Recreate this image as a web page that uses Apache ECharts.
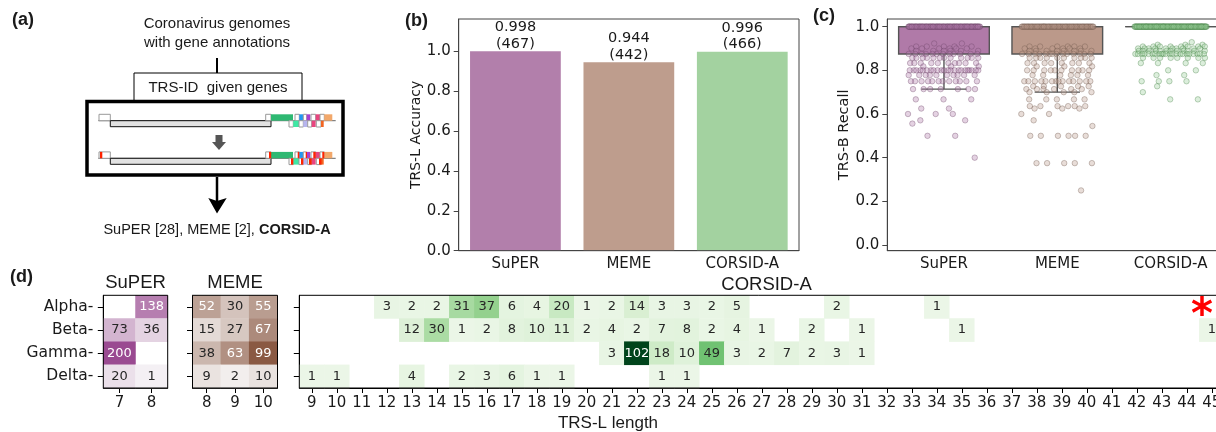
<!DOCTYPE html>
<html><head><meta charset="utf-8">
<script src="https://cdn.jsdelivr.net/npm/echarts@6/dist/echarts.min.js"></script>
<style>html,body{margin:0;padding:0;background:#fff}#c{width:1216px;height:432px}</style>
</head><body><div id="c"></div>
<script>
// ---------------- data ----------------
const methods = ['SuPER', 'MEME', 'CORSID-A'];
const accuracy = [0.998, 0.944, 0.996];
const correctCounts = [467, 442, 466];
// box stats: [whisker low, Q1, median, Q3, whisker high]
const recallBoxStats = [[0.714, 0.875, 1, 1, 1], [0.70, 0.875, 1, 1, 1], [1, 1, 1, 1, 1]];
// recall values as [value, number of genomes]
const superRecall = [[1.0,110],[0.923,2],[0.909,5],[0.9,6],[0.889,6],[0.875,12],[0.857,12],[0.833,10],[0.818,3],[0.8,22],[0.778,10],[0.75,12],[0.714,7],[0.667,3],[0.625,2],[0.6,3],[0.571,2],[0.556,1],[0.5,2],[0.4,1]];
const memeRecall = [[1.0,90],[0.909,6],[0.9,6],[0.889,8],[0.875,14],[0.857,10],[0.833,8],[0.818,3],[0.8,10],[0.778,6],[0.75,14],[0.727,5],[0.714,6],[0.7,5],[0.667,5],[0.636,6],[0.625,3],[0.6,2],[0.571,1],[0.545,1],[0.5,6],[0.375,5],[0.25,1]];
const corsidRecall = [[1.0,150],[0.929,1],[0.917,3],[0.909,8],[0.9,10],[0.889,12],[0.875,22],[0.857,8],[0.833,4],[0.8,2],[0.778,2],[0.75,4],[0.727,1],[0.7,1],[0.667,2]];

const clades = ['Alpha', 'Beta', 'Gamma', 'Delta'];
const superLengths = ['7', '8'];
const superCounts = [[0, 138], [73, 36], [200, 0], [20, 1]];
const memeLengths = ['8', '9', '10'];
const memeCounts = [[52, 30, 55], [15, 27, 67], [38, 63, 99], [9, 2, 10]];
const corsidLengths = ['9','10','11','12','13','14','15','16','17','18','19','20','21','22','23','24','25','26','27','28','29','30','31','32','33','34','35','36','37','38','39','40','41','42','43','44','45','46'];
// [TRS-L length, count] per clade
const corsidAlpha = [[12,3],[13,2],[14,2],[15,31],[16,37],[17,6],[18,4],[19,20],[20,1],[21,2],[22,14],[23,3],[24,3],[25,2],[26,5],[30,2],[34,1]];
const corsidBeta = [[13,12],[14,30],[15,1],[16,2],[17,8],[18,10],[19,11],[20,2],[21,4],[22,2],[23,7],[24,8],[25,2],[26,4],[27,1],[29,2],[31,1],[35,1],[45,1]];
const corsidGamma = [[21,3],[22,102],[23,18],[24,10],[25,49],[26,3],[27,2],[28,7],[29,2],[30,3],[31,1]];
const corsidDelta = [[9,1],[10,1],[13,4],[15,2],[16,3],[17,6],[18,1],[19,1],[23,1],[24,1]];

// ---------------- styles ----------------
const DJ = '"DejaVu Sans", sans-serif';
const LS = '"Liberation Sans", Arial, sans-serif';
const TXT = '#1a1a1a';
const barColors = ['#b27fab', '#be9d8d', '#a3d2a0'];
const boxColors = ['#b07aa8', '#bb998a', '#a3d2a0'];
const ptFill = ['rgba(176,122,170,0.42)', 'rgba(188,154,138,0.42)', 'rgba(150,205,150,0.42)'];
const ptEdge = ['rgba(105,65,100,0.55)', 'rgba(110,85,75,0.55)', 'rgba(70,130,70,0.55)'];

function jitterPoints(groups, idx) {
  const out = [];
  groups.forEach(([v, n]) => {
    const seed = (v * 7.31) % 1;
    for (let i = 0; i < n; i++) {
      const f = ((seed + i * 0.6180339887) % 1) - 0.5;
      out.push([idx + f * 0.64, v]);
    }
  });
  return out;
}
const heatLabel = { show: true, fontFamily: DJ, fontSize: 13 };
function heatItems(matrix, thr) {
  const out = [];
  matrix.forEach((row, r) => row.forEach((v, c) => {
    if (v) out.push({ value: [c, r, v], label: Object.assign({}, heatLabel, { color: v > thr ? '#ffffff' : '#262626' }) });
  }));
  return out;
}
function heatItemsPairs(rows, cats, thr) {
  const out = [];
  rows.forEach((row, r) => row.forEach(([len, v]) => {
    out.push({ value: [cats.indexOf(String(len)), r, v], label: Object.assign({}, heatLabel, { color: v > thr ? '#ffffff' : '#262626' }) });
  }));
  return out;
}

// ---------------- panel (a) diagram ----------------
const G = [];
function txt(x, y, text, font, align, extra) {
  G.push(Object.assign({ type: 'text', x: x, y: y, silent: true,
    style: { text: text, font: font, fill: TXT, textAlign: align || 'center', textVerticalAlign: 'middle' } }, extra || {}));
}
function rect(x1, y1, x2, y2, fill, stroke, lw) {
  G.push({ type: 'rect', silent: true, shape: { x: x1, y: y1, width: x2 - x1, height: y2 - y1 },
    style: { fill: fill, stroke: stroke || null, lineWidth: lw || 0 } });
}
function line(x1, y1, x2, y2, stroke, lw) {
  G.push({ type: 'line', silent: true, shape: { x1: x1, y1: y1, x2: x2, y2: y2 }, style: { stroke: stroke, lineWidth: lw } });
}
txt(12, 20.5, '(a)', 'bold 18px ' + LS, 'left');
txt(405, 21, '(b)', 'bold 18px ' + LS, 'left');
txt(813, 16, '(c)', 'bold 18px ' + LS, 'left');
txt(10, 277, '(d)', 'bold 18px ' + LS, 'left');
txt(217, 24, 'Coronavirus genomes', '15px ' + LS);
txt(217, 43, 'with gene annotations', '15px ' + LS);
line(217, 58, 217, 73, '#000', 2);
rect(134, 73, 302, 100.5, '#fff', '#000', 1);
txt(218, 87.5, 'TRS-ID  given genes', '15px ' + LS);
function genomeRow(dy, marks) {
  const b = 120.7 + dy, t = 114.3 + dy, u = 127 + dy;
  line(98.3, b, 335.7, b, '#666', 1);
  rect(99, t, 110.3, b, '#fff', '#999', 1);
  rect(110.3, b, 271, b + 6, '#e2e2e2', '#111', 1);
  rect(265.7, t, 271, b, '#fff', '#999', 1);
  rect(271, t, 293, b, '#2eb872');
  [[295, 299.3, '#fff'], [299.3, 303.3, '#2196f3'], [303.3, 306.7, '#fff'], [306.7, 310.3, '#a63fd0'],
   [311, 315.7, '#fff'], [315.7, 320, '#e8457f'], [320, 324.3, '#fff'], [324.3, 332.3, '#f2a86b']]
    .forEach(([a, c, col]) => rect(a, t, c, b, col, col === '#fff' ? '#999' : null, 1));
  [[289, 293.3, '#fff'], [293.3, 299, '#3ee8a4'], [299, 303.3, '#fff'], [303.3, 307.7, '#b7b5ee'],
   [307.7, 311.7, '#fff'], [311.7, 315.7, '#e8457f'], [316.3, 321, '#fff'], [321, 323.7, '#f26522']]
    .forEach(([a, c, col]) => rect(a, b, c, u, col, col === '#fff' ? '#999' : null, 1));
  if (marks) {
    [[100, 102.3], [269, 271.2], [297.7, 299.3], [305.7, 307], [313.3, 315.7], [322.3, 324.3]]
      .forEach(([a, c]) => rect(a, t, c, b, '#ff2200'));
    [[291, 293.3], [301, 303.3], [309, 311.7], [319, 321.5]]
      .forEach(([a, c]) => rect(a, b, c, u, '#ff2200'));
  }
}
genomeRow(0, false);
genomeRow(37.6, true);
G.push({ type: 'polygon', silent: true, shape: { points: [[215.5,135],[222.5,135],[222.5,142],[226,142],[219,150],[212,142],[215.5,142]] }, style: { fill: '#555' } });
rect(87, 101.5, 343, 175, null, '#000', 3.5);
line(217, 177, 217, 201, '#000', 2.5);
G.push({ type: 'polygon', silent: true, shape: { points: [[208.3,198],[217,201],[226.7,198],[217,213.5]] }, style: { fill: '#000' } });
G.push({ type: 'text', x: 217, y: 230, silent: true, style: {
  text: '{n|SuPER [28], MEME [2], }{b|CORSID-A}', textAlign: 'center', textVerticalAlign: 'middle',
  rich: { n: { font: '14.5px ' + LS, fill: TXT }, b: { font: 'bold 14.5px ' + LS, fill: TXT } } } });
// panel (d) titles and shared label
txt(135.5, 283, 'SuPER', '18.5px ' + LS);
txt(235, 283, 'MEME', '18.5px ' + LS);
txt(766.5, 285, 'CORSID-A', '18.5px ' + LS);
txt(608, 423, 'TRS-L length', '17px ' + LS);
G.push({ type: 'text', x: 1202, y: 317, silent: true, z: 100, style: { text: '*', font: 'bold 42px ' + DJ, fill: '#ff0000', textAlign: 'center', textVerticalAlign: 'middle' } });

// ---------------- axes helpers ----------------
const tickLbl = { fontFamily: DJ, fontSize: 15, color: TXT };
function heatX(gi, cats) {
  return { type: 'category', gridIndex: gi, data: cats, position: 'bottom',
    axisLine: { show: true, onZero: false, lineStyle: { color: '#000', width: 1 } },
    axisTick: { show: true, length: 5, alignWithLabel: true, lineStyle: { color: '#000' } },
    axisLabel: Object.assign({ margin: 8, interval: 0 }, tickLbl), splitLine: { show: false } };
}
function heatY(gi, showLbl) {
  return { type: 'category', gridIndex: gi, data: clades, inverse: true,
    axisLine: { show: true, onZero: false, lineStyle: { color: '#000', width: 1 } },
    axisTick: { show: true, length: 5.5, alignWithLabel: true, lineStyle: { color: '#000' } },
    axisLabel: Object.assign({ show: showLbl, margin: 10, formatter: v => v + '-' }, tickLbl, { fontSize: 15.5 }),
    splitLine: { show: false } };
}
const yTicks = [0, 0.2, 0.4, 0.6, 0.8, 1.0];
const gridBase = { show: true, borderWidth: 1, z: 10, containLabel: false, outerBoundsMode: 'none' };

const option = {
  animation: false,
  backgroundColor: '#ffffff',
  graphic: { elements: G },
  grid: [
    Object.assign({ left: 458.7, top: 19, width: 340.3, height: 231.7, borderColor: '#444' }, gridBase),
    Object.assign({ left: 887.3, top: 19, width: 340, height: 231.7, borderColor: '#444' }, gridBase),
    Object.assign({ left: 103.3, top: 295.3, width: 64.4, height: 92.7, borderColor: '#000' }, gridBase),
    Object.assign({ left: 192.5, top: 295.3, width: 85, height: 92.7, borderColor: '#000' }, gridBase),
    Object.assign({ left: 299.3, top: 295.3, width: 950, height: 92.7, borderColor: '#000' }, gridBase)
  ],
  xAxis: [
    { type: 'category', gridIndex: 0, data: methods,
      axisLine: { onZero: false, lineStyle: { color: '#444' } },
      axisTick: { length: 5, alignWithLabel: true, lineStyle: { color: '#444' } },
      axisLabel: Object.assign({ margin: 6 }, tickLbl) },
    { type: 'category', gridIndex: 1, data: methods,
      axisLine: { onZero: false, lineStyle: { color: '#444' } },
      axisTick: { length: 5, alignWithLabel: true, lineStyle: { color: '#444' } },
      axisLabel: Object.assign({ margin: 6 }, tickLbl) },
    { type: 'value', gridIndex: 1, min: -0.5, max: 2.5, show: false, axisLine: { onZero: false } },
    heatX(2, superLengths), heatX(3, memeLengths), heatX(4, corsidLengths)
  ],
  yAxis: [
    { type: 'value', gridIndex: 0, min: 0, max: 1.16,
      name: 'TRS-L Accuracy', nameLocation: 'middle', nameGap: 33, nameRotate: 90,
      nameTextStyle: { fontFamily: DJ, fontSize: 14, color: TXT },
      axisLine: { show: true, onZero: false, lineStyle: { color: '#444' } },
      axisTick: { show: true, length: 5, lineStyle: { color: '#444' }, customValues: yTicks },
      axisLabel: Object.assign({ margin: 8, customValues: yTicks, formatter: v => v.toFixed(1) }, tickLbl),
      splitLine: { show: false } },
    { type: 'value', gridIndex: 1, min: -0.026, max: 1.035,
      name: 'TRS-B Recall', nameLocation: 'middle', nameGap: 33, nameRotate: 90,
      nameTextStyle: { fontFamily: DJ, fontSize: 14.5, color: TXT },
      axisLine: { show: true, onZero: false, lineStyle: { color: '#444' } },
      axisTick: { show: true, length: 5, lineStyle: { color: '#444' }, customValues: yTicks },
      axisLabel: Object.assign({ margin: 8, customValues: yTicks, formatter: v => v.toFixed(1) }, tickLbl),
      splitLine: { show: false } },
    heatY(2, true), heatY(3, false), heatY(4, false)
  ],
  visualMap: [
    { type: 'continuous', show: false, seriesIndex: 5, dimension: 2, min: 0, max: 200, inRange: { color: ['#f4f1f4', '#9a4a91'] } },
    { type: 'continuous', show: false, seriesIndex: 6, dimension: 2, min: 0, max: 99, inRange: { color: ['#f4f1f0', '#8a5943'] } },
    { type: 'continuous', show: false, seriesIndex: 7, dimension: 2, min: 0, max: 102,
      inRange: { color: ['#ecf7e8', '#dcf0d6', '#b9e3b2', '#90cf8a', '#6abf6e', '#3fa95c', '#228a44', '#006c2c', '#00441b'] } }
  ],
  series: [
    { type: 'bar', xAxisIndex: 0, yAxisIndex: 0, barWidth: '80%', z: 2,
      data: accuracy.map((v, i) => ({ value: v, itemStyle: { color: barColors[i] } })),
      label: { show: true, position: 'top', distance: -1, fontFamily: DJ, fontSize: 14.5, color: TXT, lineHeight: 16.5, align: 'center',
        formatter: p => p.value.toFixed(3) + '\n(' + correctCounts[p.dataIndex] + ')' } },
    { type: 'custom', xAxisIndex: 2, yAxisIndex: 1, z: 2,
      data: recallBoxStats.map((s, i) => [i].concat(s)),
      renderItem: function (params, api) {
        const i = api.value(0);
        const half = api.size([0.8, 0])[0] / 2;
        const c = api.coord([i, api.value(3)]);
        const lo = api.coord([i, api.value(1)])[1], q1 = api.coord([i, api.value(2)])[1];
        const q3 = api.coord([i, api.value(4)])[1], hi = api.coord([i, api.value(5)])[1];
        const ls = { stroke: '#555', lineWidth: 1.4 };
        const ch = [
          { type: 'rect', shape: { x: c[0] - half, y: q3, width: 2 * half, height: q1 - q3 }, style: { fill: boxColors[i], stroke: '#555', lineWidth: 1.4 } },
          { type: 'line', shape: { x1: c[0] - half, y1: c[1], x2: c[0] + half, y2: c[1] }, style: ls }
        ];
        if (lo > q1 + 0.5) {
          ch.push({ type: 'line', shape: { x1: c[0], y1: q1, x2: c[0], y2: lo }, style: ls });
          ch.push({ type: 'line', shape: { x1: c[0] - half / 2, y1: lo, x2: c[0] + half / 2, y2: lo }, style: ls });
        }
        if (hi < q3 - 0.5) {
          ch.push({ type: 'line', shape: { x1: c[0], y1: q3, x2: c[0], y2: hi }, style: ls });
          ch.push({ type: 'line', shape: { x1: c[0] - half / 2, y1: hi, x2: c[0] + half / 2, y2: hi }, style: ls });
        }
        return { type: 'group', children: ch };
      } },
    ...[superRecall, memeRecall, corsidRecall].map((g, i) => ({
      type: 'scatter', xAxisIndex: 2, yAxisIndex: 1, z: 3, symbolSize: 5.5,
      data: jitterPoints(g, i),
      itemStyle: { color: ptFill[i], borderColor: ptEdge[i], borderWidth: 0.8 } })),
    { type: 'heatmap', xAxisIndex: 3, yAxisIndex: 2, data: heatItems(superCounts, 100), label: heatLabel },
    { type: 'heatmap', xAxisIndex: 4, yAxisIndex: 3, data: heatItems(memeCounts, 45), label: heatLabel },
    { type: 'heatmap', xAxisIndex: 5, yAxisIndex: 4,
      data: heatItemsPairs([corsidAlpha, corsidBeta, corsidGamma, corsidDelta], corsidLengths, 60), label: heatLabel }
  ]
};
const chart = echarts.init(document.getElementById('c'), null, { renderer: 'canvas' });
chart.setOption(option);
</script></body></html>
